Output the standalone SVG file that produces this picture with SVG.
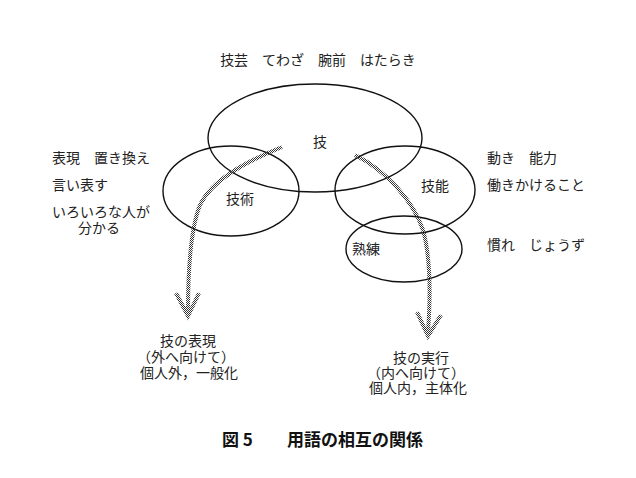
<svg xmlns="http://www.w3.org/2000/svg" width="636" height="478" viewBox="0 0 636 478">
<style>
.e{fill:none;stroke:#111;stroke-width:1.4}
.t{font-family:"Noto Sans CJK JP",sans-serif;font-size:14px;fill:#222}
.c{font-family:"Noto Sans CJK JP",sans-serif;font-size:17px;font-weight:bold;fill:#111}
.d{fill:none;stroke:url(#dots);stroke-width:4}
</style>
<defs>
<pattern id="dots" width="2" height="2" patternUnits="userSpaceOnUse">
<rect x="0" y="0" width="1" height="1" fill="#333"/>
<rect x="1" y="1" width="1" height="1" fill="#333"/>
</pattern>
</defs>
<rect width="636" height="478" fill="#fff"/>
<text class="t" x="318" y="65" text-anchor="middle">技芸　てわざ　腕前　はたらき</text>
<g id="waza"><ellipse class="e" cx="315" cy="138" rx="107" ry="54"/><text class="t" x="320" y="147" text-anchor="middle">技</text></g>
<g id="gijutsu"><ellipse class="e" cx="231" cy="191" rx="68" ry="45"/><text class="t" x="240" y="204" text-anchor="middle">技術</text></g>
<g id="ginou"><ellipse class="e" cx="405" cy="190" rx="70" ry="44"/><text class="t" x="435" y="191" text-anchor="middle">技能</text></g>
<g id="jukuren"><ellipse class="e" cx="404" cy="249" rx="58" ry="33"/><text class="t" x="366" y="254" text-anchor="middle">熟練</text></g>
<g id="left-labels">
<text class="t" x="52" y="163">表現　置き換え</text>
<text class="t" x="52" y="190">言い表す</text>
<text class="t" x="52" y="217">いろいろな人が</text>
<text class="t" x="99" y="233" text-anchor="middle">分かる</text>
</g>
<g id="right-labels">
<text class="t" x="487" y="163">動き　能力</text>
<text class="t" x="487" y="190">働きかけること</text>
<text class="t" x="487" y="250">慣れ　じょうず</text>
</g>
<g id="connectors">
<path class="d" d="M282,147 C245,162 212,180 200,205 C190,230 188,270 188,312"/>
<path class="d" d="M176,293 L188,316 L199,293"/>
<path class="d" d="M355,155 C385,170 413,200 423,230 C430,255 431,290 428,332"/>
<path class="d" d="M417,312 L428,336 L441,315"/>
</g>
<g id="bottom-left">
<text class="t" x="188" y="346" text-anchor="middle">技の表現</text>
<text class="t" x="186" y="362" text-anchor="middle">（外へ向けて）</text>
<text class="t" x="189" y="378" text-anchor="middle">個人外，一般化</text>
</g>
<g id="bottom-right">
<text class="t" x="421" y="363" text-anchor="middle">技の実行</text>
<text class="t" x="416" y="378" text-anchor="middle">（内へ向けて）</text>
<text class="t" x="418" y="393" text-anchor="middle">個人内，主体化</text>
</g>
<text class="c" x="222" y="446">図 5　　用語の相互の関係</text>
</svg>
